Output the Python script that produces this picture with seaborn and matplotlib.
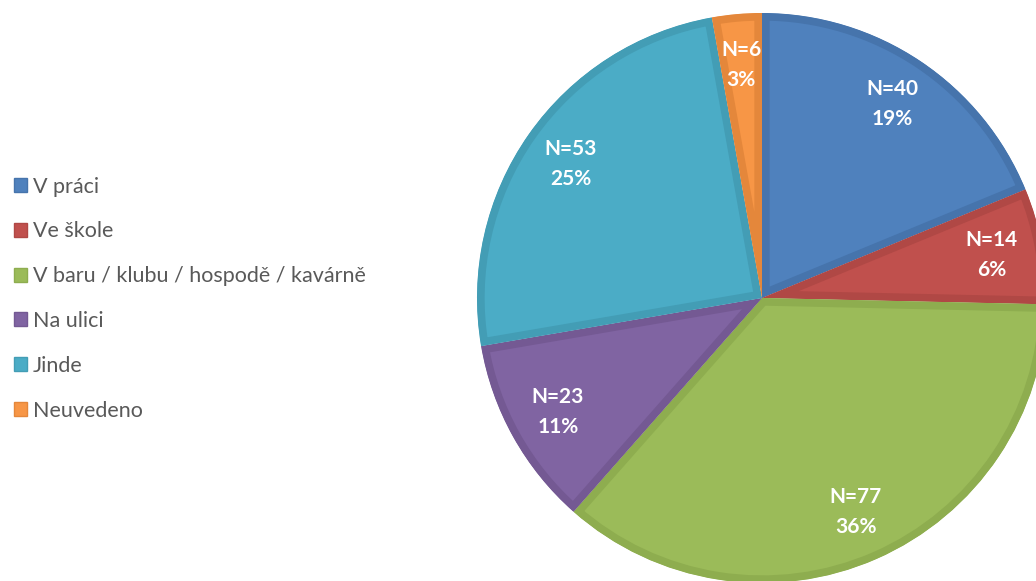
import matplotlib
matplotlib.use("Agg")
import matplotlib.pyplot as plt
import seaborn as sns

categories = ["V práci", "Ve škole", "V baru / klubu / hospodě / kavárně",
              "Na ulici", "Jinde", "Neuvedeno"]
counts = [40, 14, 77, 23, 53, 6]
percents = [19, 6, 36, 11, 25, 3]

fill_colors = ["#4F81BD", "#C0504D", "#9BBB59", "#8064A2", "#4BACC6", "#F79646"]
edge_colors = ["#4674AC", "#B04845", "#8EAD4F", "#745993", "#439DB5", "#E4873B"]

sns.set_style("white")
plt.rcParams['font.family'] = ['Lato', 'DejaVu Sans']

W, H = 1036, 581
fig = plt.figure(figsize=(W / 100, H / 100), dpi=100)
ax = fig.add_axes([0, 0, 1, 1])

labels = [f"N={n}\n{p}%" for n, p in zip(counts, percents)]
wedges, texts = ax.pie(counts, labels=labels, colors=fill_colors,
                       startangle=90, counterclock=False,
                       center=(762, H - 298), radius=285,
                       labeldistance=0.82,
                       wedgeprops=dict(linewidth=11, joinstyle="miter"))
for w, ec in zip(wedges, edge_colors):
    w.set_edgecolor(ec)
    # keep only the inner half of the stroke -> bevel band inside each slice
    w.set_clip_on(True)
    w.set_clip_path(w.get_path(), transform=w.get_transform())
for t in texts:
    t.set_ha("center")
    t.set_va("center")
    t.set_color("white")
    t.set_fontweight("bold")
    t.set_fontsize(15)
    t.set_linespacing(1.65)

ax.set_xlim(0, W)
ax.set_ylim(0, H)
ax.set_aspect("equal")
ax.axis("off")

leg = ax.legend(wedges, categories, loc="center left",
                bbox_to_anchor=(0.003, 0.486), bbox_transform=fig.transFigure,
                frameon=False, fontsize=15.5, handlelength=0.62, handleheight=0.62,
                handletextpad=0.25, labelspacing=1.15, borderpad=0)
for t in leg.get_texts():
    t.set_color("#595959")
for h in leg.legend_handles:
    h.set_linewidth(1)
    h.set_clip_path(None)

fig.savefig("out.png", dpi=100)
